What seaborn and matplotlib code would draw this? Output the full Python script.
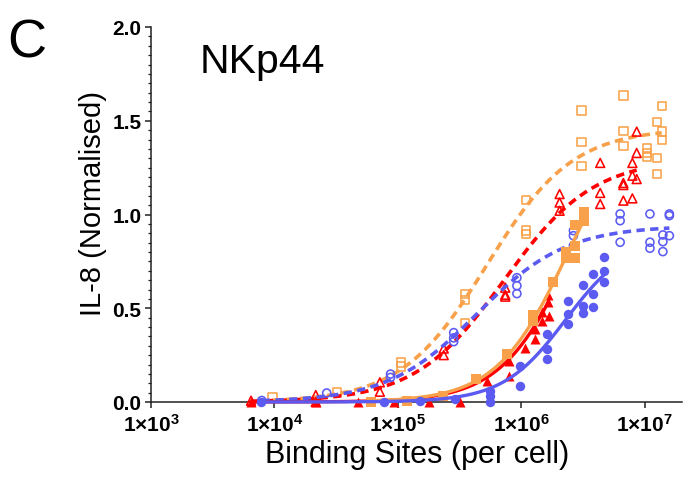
import numpy as np
import pandas as pd
import matplotlib
matplotlib.use("Agg")
import matplotlib.pyplot as plt
from matplotlib.ticker import FixedLocator, MultipleLocator, NullLocator
import seaborn as sns

# ---- measured responses: binding sites per cell vs normalised IL-8 ----
orange_filled_x = [6.0e4, 1.19e5, 2.31e5, 4.32e5, 7.6e5, 1.24e6, 1.24e6, 1.80e6,
                   2.31e6, 2.31e6, 2.73e6, 2.73e6, 2.73e6, 3.24e6, 3.24e6]
orange_filled_y = [0.0, 0.005, 0.03, 0.123, 0.256, 0.464, 0.434, 0.638,
                   0.798, 0.766, 0.944, 0.834, 0.766, 1.015, 0.967]

red_filled_x = [6.46e3, 2.16e4, 4.74e4, 9.3e4, 1.78e5, 3.16e5, 5.25e5, 7.9e5, 7.9e5,
                1.07e6, 1.29e6, 1.29e6, 1.47e6, 1.47e6, 1.66e6, 1.64e6, 1.64e6]
red_filled_y = [0.0, 0.0, 0.0, 0.0, 0.0, 0.0, 0.114, 0.22, 0.14,
                0.29, 0.389, 0.336, 0.478, 0.434, 0.46, 0.571, 0.532]

blue_filled_x = [7.85e3, 7.7e4, 1.50e5, 2.92e5, 5.53e5, 5.53e5, 5.53e5, 9.8e5, 9.8e5,
                 1.61e6, 1.61e6, 1.61e6, 2.38e6, 2.38e6, 2.38e6, 3.18e6, 3.18e6, 3.18e6,
                 3.79e6, 3.79e6, 3.79e6, 4.71e6, 4.71e6, 4.71e6]
blue_filled_y = [0.0, 0.0, 0.005, 0.016, 0.06, 0.03, 0.0, 0.194, 0.087,
                 0.363, 0.283, 0.229, 0.537, 0.469, 0.416, 0.624, 0.514, 0.473,
                 0.683, 0.576, 0.505, 0.772, 0.70, 0.638]

orange_open_x = [9.64e3, 3.23e4, 1.06e5, 1.06e5, 3.48e5, 3.48e5, 3.48e5,
                 1.09e6, 1.09e6, 1.09e6, 3.07e6, 3.07e6, 3.07e6, 6.70e6, 6.70e6, 6.70e6,
                 1.035e7, 1.035e7, 1.035e7, 1.25e7, 1.25e7, 1.25e7, 1.37e7, 1.37e7, 1.37e7]
orange_open_y = [0.025, 0.052, 0.21, 0.19, 0.576, 0.545, 0.423,
                 1.076, 0.914, 0.896, 1.554, 1.387, 1.257, 1.634, 1.447, 1.367,
                 1.353, 1.328, 1.305, 1.492, 1.301, 1.216, 1.580, 1.443, 1.397]

red_open_x = [6.46e3, 2.16e4, 2.16e4, 7.14e4, 7.14e4, 2.35e5, 2.35e5,
              7.4e5, 7.4e5, 7.4e5, 2.04e6, 2.04e6, 2.04e6, 4.35e6, 4.35e6, 4.35e6,
              6.70e6, 6.70e6, 6.70e6, 7.93e6, 7.93e6, 7.93e6, 8.59e6, 8.59e6, 8.59e6]
red_open_y = [0.007, 0.037, 0.0, 0.105, 0.055, 0.285, 0.25,
              0.61, 0.572, 0.562, 1.109, 1.064, 1.02, 1.275, 1.115, 1.056,
              1.168, 1.157, 1.074, 1.275, 1.207, 1.086, 1.442, 1.328, 1.189]

blue_open_x = [7.89e3, 2.65e4, 8.71e4, 8.71e4, 2.83e5, 2.83e5, 2.83e5,
               9.2e5, 9.2e5, 9.2e5, 2.64e6, 2.64e6, 2.64e6, 6.31e6, 6.31e6, 6.31e6,
               1.10e7, 1.10e7, 1.10e7, 1.40e7, 1.40e7, 1.40e7, 1.58e7, 1.58e7, 1.58e7]
blue_open_y = [0.008, 0.048, 0.149, 0.131, 0.37, 0.342, 0.322,
               0.663, 0.62, 0.578, 0.914, 0.887, 0.834, 1.003, 0.967, 0.852,
               1.003, 0.852, 0.820, 0.891, 0.855, 0.802, 1.003, 0.994, 0.887]

# ---- four-parameter logistic fits (bottom, top, log10 EC50, Hill slope) ----
fit_bottom = {"of": 0.0, "rf": 0.0, "bf": 0.0, "oo": 0.0, "ro": 0.0, "bo": 0.0}
fit_top = {"of": 1.6, "rf": 1.6, "bf": 0.88, "oo": 1.46, "ro": 1.30, "bo": 0.94}
fit_logec50 = {"of": 6.38, "rf": 6.42, "bf": 6.36, "oo": 5.72, "ro": 5.86, "bo": 5.64}
fit_hill = {"of": 1.5, "rf": 1.5, "bf": 1.7, "oo": 1.25, "ro": 1.2, "bo": 1.2}

x_tick_values = [1e3, 1e4, 1e5, 1e6, 1e7]
x_tick_labels = [r"$1{\times}10^{3}$", r"$1{\times}10^{4}$", r"$1{\times}10^{5}$",
                 r"$1{\times}10^{6}$", r"$1{\times}10^{7}$"]
y_tick_values = [0.0, 0.5, 1.0, 1.5, 2.0]
y_tick_labels = ["0.0", "0.5", "1.0", "1.5", "2.0"]

ORANGE = "#F8A14A"
RED = "#FF0000"
BLUE = "#5B5BF2"
INK = "#000000"
AXIS = "#222222"

sns.set_style("ticks")
plt.rcParams["font.family"] = ["Liberation Sans", "DejaVu Sans"]
plt.rcParams["text.color"] = INK
plt.rcParams["axes.labelcolor"] = INK
plt.rcParams["xtick.color"] = AXIS
plt.rcParams["ytick.color"] = AXIS
plt.rcParams["xtick.labelcolor"] = INK
plt.rcParams["ytick.labelcolor"] = INK
plt.rcParams["mathtext.fontset"] = "custom"
plt.rcParams["mathtext.rm"] = "Liberation Sans:bold"
plt.rcParams["mathtext.bf"] = "Liberation Sans:bold"
plt.rcParams["mathtext.it"] = "Liberation Sans:bold"
plt.rcParams["mathtext.default"] = "bf"

fig = plt.figure(figsize=(6.85, 4.85), dpi=100)
W, H = 685, 485
ax = fig.add_axes([151 / W, 1 - 403 / H, (682 - 151) / W, (403 - 28) / H])

series = [
    # key, x, y, marker, filled, colour, size, dashed
    ("oo", orange_open_x, orange_open_y, "s", False, ORANGE, 6.0, True),
    ("ro", red_open_x, red_open_y, "^", False, RED, 6.4, True),
    ("bo", blue_open_x, blue_open_y, "o", False, BLUE, 5.8, True),
    ("rf", red_filled_x, red_filled_y, "^", True, RED, 7.2, False),
    ("of", orange_filled_x, orange_filled_y, "s", True, ORANGE, 6.8, False),
    ("bf", blue_filled_x, blue_filled_y, "o", True, BLUE, 6.8, False),
]

z = 3
for key, xs, ys, marker, filled, col, ms, dashed in series:
    lx = np.log10(np.array(xs, dtype=float))
    grid = np.linspace(lx.min(), lx.max(), 300)
    b, t, ec, h = fit_bottom[key], fit_top[key], fit_logec50[key], fit_hill[key]
    curve = pd.DataFrame({"x": 10 ** grid,
                          "y": b + (t - b) / (1 + 10 ** ((ec - grid) * h))})
    line_kw = dict(linestyle=(0, (2.3, 1.5)), linewidth=2.6) if dashed else dict(linewidth=2.4)
    sns.lineplot(data=curve, x="x", y="y", color=col, ax=ax, errorbar=None,
                 sort=False, zorder=z, clip_on=False, **line_kw)
    pts = pd.DataFrame({"x": xs, "y": ys})
    if filled:
        sns.scatterplot(data=pts, x="x", y="y", marker=marker, s=ms ** 2, color=col,
                        edgecolor=col, linewidth=0, ax=ax, zorder=z + 0.5, clip_on=False)
    else:
        sns.scatterplot(data=pts, x="x", y="y", marker=marker, s=ms ** 2, color=col,
                        facecolor="none", edgecolor=col, linewidth=1.15, ax=ax,
                        zorder=z + 0.5, clip_on=False)
    z += 1

ax.set_xscale("log")
ax.set_xlim(1e3, 2.0e7)
ax.set_ylim(0, 2.0)
ax.set_xticks(x_tick_values)
ax.set_xticklabels(x_tick_labels)
ax.xaxis.set_minor_locator(NullLocator())
ax.set_yticks(y_tick_values)
ax.set_yticklabels(y_tick_labels)
ax.yaxis.set_minor_locator(MultipleLocator(0.05))

sns.despine(ax=ax)
for s in ("left", "bottom"):
    ax.spines[s].set_linewidth(1.1)
    ax.spines[s].set_color(AXIS)
ax.tick_params(axis="both", which="major", length=4, width=1.1, color=AXIS,
               labelsize=15, pad=3)
ax.tick_params(axis="y", which="minor", length=2.5, width=0.9, color=AXIS)
for lab in ax.get_yticklabels():
    lab.set_fontweight("bold")
ax.tick_params(axis="x", pad=4)

ax.set_xlabel("")
ax.set_ylabel("")
fig.text(417 / W, 1 - 455 / H, "Binding Sites (per cell)", fontsize=22,
         ha="center", va="center")
fig.text(93 / W, 1 - 204 / H, "IL-8 (Normalised)", fontsize=21, rotation=90,
         ha="center", va="center")
fig.text(7 / W, 1 - 57 / H, "C", fontsize=39, ha="left", va="baseline")
fig.text(200 / W, 1 - 73 / H, "NKp44", fontsize=29.5, ha="left", va="baseline")

fig.savefig("out.png", dpi=100)
